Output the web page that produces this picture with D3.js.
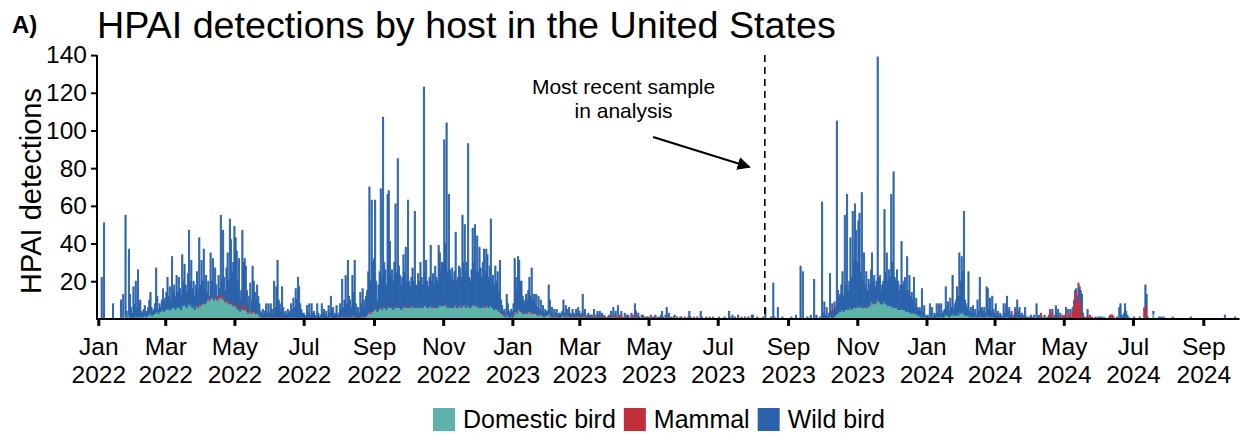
<!DOCTYPE html>
<html>
<head>
<meta charset="utf-8">
<script src="https://cdn.jsdelivr.net/npm/d3@7"></script>
<style>
  html, body { margin: 0; padding: 0; background: #ffffff; }
  svg { display: block; font-family: "Liberation Sans", Arial, Helvetica, sans-serif; }
</style>
</head>
<body>
<svg id="chart" width="1244" height="434"></svg>
<script>
// Daily HPAI detections, one row per calendar month starting January 2022.
const firstMonth = [2022, 0];

const wildBird = [
  /* 2022-01 */ [0,0,0,22,0,51,0,0,0,0,0,0,0,8,0,0,0,0,0,0,9,0,12,0,53,3,0,35,12,5,2],
  /* 2022-02 */ [16,7,18,5,24,7,8,3,2,3,5,2,2,4,7,11,4,2,2,5,23,8,2,4,2,5,11,5],
  /* 2022-03 */ [6,9,16,7,11,5,26,9,12,7,16,8,15,10,7,26,13,21,11,8,16,38,13,22,10,13,7,11,17,8,34],
  /* 2022-04 */ [10,23,12,27,8,14,2,9,1,23,9,18,5,14,7,0,11,4,42,7,34,12,4,17,25,12,42,33,15,23],
  /* 2022-05 */ [40,35,28,15,24,6,9,39,21,26,17,9,5,7,8,6,22,16,10,7,14,9,6,3,2,3,1,3,6,2,6],
  /* 2022-06 */ [2,6,4,2,18,5,16,30,7,7,3,16,5,2,3,2,4,2,3,7,4,10,5,15,8,21,16,7,4,2],
  /* 2022-07 */ [2,1,1,6,2,6,2,7,2,3,1,1,7,2,1,1,7,2,3,2,3,1,6,2,10,3,5,1,2,6,1],
  /* 2022-08 */ [2,7,3,19,5,8,21,7,28,11,9,5,21,12,29,7,4,5,3,12,7,14,8,5,10,13,21,66,16,59,25],
  /* 2022-09 */ [27,56,15,6,12,19,63,17,99,24,20,13,57,62,34,15,20,15,21,55,18,77,22,17,13,16,26,19,31,13],
  /* 2022-10 */ [55,14,11,14,20,14,50,10,11,17,14,22,16,12,115,18,24,13,11,15,32,14,17,11,21,16,14,32,24,18,23],
  /* 2022-11 */ [23,87,32,96,19,59,20,15,20,14,18,38,14,14,21,20,16,47,22,42,19,23,85,16,13,19,40,23,42,18],
  /* 2022-12 */ [37,19,30,21,16,23,30,18,30,27,16,21,45,14,16,13,22,15,17,11,25,6,3,2,2,2,10,5,3,2,3],
  /* 2023-01 */ [3,5,28,18,11,28,26,15,16,9,6,5,9,6,11,18,8,23,7,10,4,10,4,9,2,7,2,4,2,3,2],
  /* 2023-02 */ [2,15,7,1,4,1,2,2,3,1,1,2,1,2,7,2,5,2,1,4,1,1,3,1,1,3,1,4],
  /* 2023-03 */ [2,1,1,11,1,2,0,1,1,1,1,0,1,3,0,1,2,1,2,1,1,1,1,0,0,1,0,1,3,0,4],
  /* 2023-04 */ [1,2,0,5,0,1,2,0,0,2,0,1,0,1,0,1,1,0,6,2,1,2,0,0,1,0,1,0,0,1],
  /* 2023-05 */ [0,0,0,1,0,0,1,0,1,0,0,2,3,0,0,1,5,0,2,0,1,0,0,1,0,1,0,0,1,0,0],
  /* 2023-06 */ [0,0,0,0,1,3,0,0,0,0,0,0,1,0,0,4,1,0,0,0,0,0,0,1,0,0,1,0,0,0],
  /* 2023-07 */ [0,1,0,0,0,0,1,0,0,0,4,1,0,1,0,1,0,0,2,0,0,0,0,0,1,0,0,1,0,0,1],
  /* 2023-08 */ [1,0,0,0,1,0,0,0,0,0,0,6,0,0,0,0,1,0,18,1,0,0,6,0,0,0,1,0,0,0,0],
  /* 2023-09 */ [0,0,0,1,0,0,0,2,0,0,0,28,0,25,0,0,0,1,0,0,2,0,0,21,0,2,0,0,1,0],
  /* 2023-10 */ [61,3,8,2,5,1,2,22,3,1,4,7,4,101,12,8,9,13,19,8,50,13,60,10,13,37,17,51,23,55,39],
  /* 2023-11 */ [24,45,48,19,59,14,28,12,18,8,13,11,17,25,12,14,8,10,128,13,13,7,10,10,49,17,27,13,18,15],
  /* 2023-12 */ [59,24,71,16,13,20,15,10,13,35,13,14,17,11,28,11,19,9,10,7,17,5,8,4,3,4,3,13,2,5,1],
  /* 2024-01 */ [1,1,1,6,1,4,1,2,1,6,2,6,1,6,2,3,3,14,4,7,3,9,4,20,3,6,8,14,10,31,17],
  /* 2024-02 */ [29,22,53,8,6,4,22,3,4,2,5,2,3,1,8,3,19,4,4,3,5,2,14,14,4,9,3,10,4],
  /* 2024-03 */ [2,7,2,3,1,2,1,1,7,2,7,10,3,4,2,3,1,1,1,3,9,3,5,1,2,1,0,5,1,1,0],
  /* 2024-04 */ [1,1,0,1,1,0,7,1,1,0,0,1,0,1,0,0,0,1,0,0,2,1,1,6,1,3,1,1,1,0],
  /* 2024-05 */ [0,1,3,0,1,1,2,0,1,2,1,2,2,0,5,6,11,1,0,0,0,4,0,0,0,0,0,0,1,0,1],
  /* 2024-06 */ [0,1,0,1,0,0,0,0,0,1,0,0,0,0,0,0,1,0,5,7,2,1,3,7,4,2,1,0,0,0],
  /* 2024-07 */ [0,1,0,0,0,0,1,0,0,0,1,10,7,1,0,0,0,0,1,0,0,0,0,1,0,1,0,1,0,0,0],
  /* 2024-08 */ [0,0,0,0,1,0,0,0,0,0,0,0,0,0,0,0,0,0,0,0,1,0,0,0,0,0,0,0,0,0,0],
  /* 2024-09 */ [0,0,0,0,0,0,0,0,0,0,0,0,0,0,0,0,0,0,0,2,0,0,0,0,0,0,0,0,1,0]
];

const domesticBird = [
  /* 2022-01 */ [0,0,0,0,0,0,0,0,0,0,0,0,0,0,0,0,0,0,0,0,1,0,1,0,2,1,0,2,1,1,1],
  /* 2022-02 */ [1,1,2,1,2,1,2,1,1,2,2,1,2,2,3,3,2,2,3,3,4,4,3,4,4,5,5,4],
  /* 2022-03 */ [5,5,6,5,6,5,7,6,6,5,7,6,7,6,5,8,7,8,7,6,8,9,7,8,6,7,5,7,8,6,9],
  /* 2022-04 */ [7,8,8,9,8,9,10,11,10,12,11,12,10,12,11,10,12,11,13,11,12,10,9,10,9,8,9,8,8,7],
  /* 2022-05 */ [7,7,6,5,6,4,5,6,5,5,5,4,3,4,11,3,4,4,3,3,3,3,2,1,1,1,1,1,2,1,1],
  /* 2022-06 */ [1,1,1,0,1,1,1,1,1,1,1,1,1,0,1,0,1,1,1,1,1,1,1,1,1,1,1,1,1,1],
  /* 2022-07 */ [1,0,0,1,1,1,0,1,1,1,0,0,1,1,0,1,1,1,1,0,1,0,1,1,2,1,1,0,1,1,1],
  /* 2022-08 */ [1,1,1,2,1,1,2,1,2,1,1,1,2,1,2,1,0,1,0,1,1,2,1,1,2,2,3,4,3,4,4],
  /* 2022-09 */ [5,6,5,4,5,6,6,5,7,6,6,5,7,6,7,6,6,5,7,6,6,7,6,6,5,6,7,6,7,6],
  /* 2022-10 */ [7,6,6,7,7,6,7,6,6,7,6,7,6,6,8,7,7,6,6,7,7,6,7,6,7,6,6,7,8,7,7],
  /* 2022-11 */ [7,8,7,8,6,7,6,7,6,6,7,8,6,6,7,7,6,8,7,8,6,7,8,6,6,7,8,7,8,7],
  /* 2022-12 */ [7,6,7,6,6,7,7,6,7,7,6,7,8,6,6,5,6,5,6,4,6,3,3,2,2,1,3,2,1,1,2],
  /* 2023-01 */ [1,2,4,4,3,5,5,4,4,3,3,3,4,3,4,4,3,4,3,3,3,3,2,3,2,3,2,2,1,2,2],
  /* 2023-02 */ [2,3,3,1,2,1,2,1,2,1,1,1,1,2,2,1,2,2,1,2,1,1,2,1,1,2,1,2],
  /* 2023-03 */ [1,1,1,2,1,2,0,1,1,0,1,1,0,2,1,0,1,1,1,0,1,0,1,0,0,0,1,0,1,1,2],
  /* 2023-04 */ [1,1,0,2,1,0,1,0,0,1,0,1,1,0,0,1,0,1,2,1,0,1,0,0,1,1,0,0,0,0],
  /* 2023-05 */ [0,0,1,0,0,0,1,0,0,0,0,0,1,0,0,1,1,0,1,0,0,0,0,1,0,0,0,0,0,0,0],
  /* 2023-06 */ [0,0,0,0,0,1,0,0,0,0,0,0,0,0,0,0,0,0,0,0,0,0,0,0,0,0,0,0,0,0],
  /* 2023-07 */ [0,0,0,0,0,0,0,0,0,0,0,0,0,1,0,0,0,0,0,0,0,0,0,0,0,0,0,0,0,0,0],
  /* 2023-08 */ [0,0,0,0,0,0,0,0,0,0,0,0,0,0,0,0,0,0,1,0,0,0,0,0,0,0,0,0,0,0,0],
  /* 2023-09 */ [0,0,0,0,0,0,0,0,0,0,0,0,0,0,0,0,0,0,0,0,0,0,0,0,0,0,0,0,0,0],
  /* 2023-10 */ [1,0,1,0,1,0,1,2,1,1,1,2,2,3,3,4,4,5,5,4,5,5,6,5,6,6,5,6,7,6,7],
  /* 2023-11 */ [6,7,7,6,8,6,7,6,7,6,8,7,9,10,8,9,8,10,11,9,10,8,8,9,9,8,8,7,8,7],
  /* 2023-12 */ [7,6,7,6,6,6,5,5,5,6,5,5,5,4,5,4,4,3,4,3,4,3,3,2,2,2,1,3,1,2,1],
  /* 2024-01 */ [0,1,0,2,1,2,0,1,1,2,1,2,1,2,1,1,2,3,2,2,1,2,2,3,2,2,2,3,2,4,3],
  /* 2024-02 */ [4,3,4,2,2,2,3,1,2,1,2,1,2,1,2,1,3,1,2,1,1,1,2,2,1,2,1,2,1],
  /* 2024-03 */ [1,1,0,1,0,1,0,0,1,1,1,2,1,1,0,1,0,0,1,0,1,1,1,0,1,0,0,1,0,0,0],
  /* 2024-04 */ [0,0,0,0,1,0,1,0,0,0,0,0,0,1,0,0,0,0,1,0,1,0,0,1,0,1,0,0,0,0],
  /* 2024-05 */ [0,0,1,0,1,0,0,0,0,0,0,0,0,0,0,0,0,0,0,0,0,1,0,0,0,0,0,0,0,0,0],
  /* 2024-06 */ [0,0,0,0,0,1,0,0,0,0,0,0,0,0,0,0,0,0,1,1,0,0,0,1,0,0,0,0,0,0],
  /* 2024-07 */ [0,0,0,0,0,0,0,0,0,0,1,0,0,0,0,0,0,0,3,0,0,0,0,0,0,0,0,0,0,0,0],
  /* 2024-08 */ [0,0,0,0,0,0,0,0,0,0,0,0,0,0,0,0,0,0,0,0,0,0,0,0,0,0,0,0,0,0,0],
  /* 2024-09 */ [0,0,0,0,0,0,0,0,0,0,0,0,0,0,0,0,0,0,0,0,0,0,0,0,0,0,0,0,0,0]
];

const mammal = [
  /* 2022-01 */ [0,0,0,0,0,0,0,0,0,0,0,0,0,0,0,0,0,0,0,0,0,0,0,0,0,0,0,0,0,0,0],
  /* 2022-02 */ [0,0,0,0,0,0,0,0,0,0,0,0,0,0,0,0,0,0,0,0,0,0,0,0,0,0,0,0],
  /* 2022-03 */ [0,0,0,0,0,0,0,0,0,0,0,0,0,0,0,0,0,0,0,0,0,0,0,1,0,0,0,0,0,1,0],
  /* 2022-04 */ [1,0,0,1,0,0,2,0,1,0,0,2,0,1,0,2,0,1,0,2,1,0,2,0,1,0,2,1,2,0],
  /* 2022-05 */ [2,1,2,0,2,0,1,2,4,1,6,2,0,1,0,1,2,0,1,0,1,0,0,0,0,1,0,0,0,0,1],
  /* 2022-06 */ [0,1,0,0,1,0,0,0,2,0,0,0,0,1,0,0,0,0,0,0,0,0,0,0,1,0,0,0,0,0],
  /* 2022-07 */ [0,1,0,0,0,1,0,0,0,0,1,0,0,0,0,0,0,0,1,0,0,0,0,0,0,0,0,1,0,0,0],
  /* 2022-08 */ [0,0,1,0,0,1,0,0,1,0,0,0,0,1,0,0,0,0,0,1,0,0,1,0,0,0,1,0,1,0,1],
  /* 2022-09 */ [0,1,0,0,1,0,0,0,1,0,0,0,2,0,0,1,0,0,2,0,0,1,0,0,0,0,1,0,0,1],
  /* 2022-10 */ [1,0,0,1,0,0,0,2,0,0,0,1,0,0,0,0,0,1,0,0,0,0,0,1,0,0,0,0,3,0,0],
  /* 2022-11 */ [0,0,1,0,0,0,0,0,1,0,0,0,0,2,0,0,0,0,1,0,0,0,0,0,1,0,0,0,0,0],
  /* 2022-12 */ [0,0,1,0,0,0,0,1,0,0,0,0,0,0,1,0,0,0,2,0,0,1,1,0,1,0,0,1,0,0,0],
  /* 2023-01 */ [0,1,0,0,1,0,0,1,0,0,1,0,0,1,0,0,1,0,0,0,1,0,0,0,1,0,0,1,0,0,0],
  /* 2023-02 */ [0,0,0,1,0,0,1,0,0,0,1,0,0,0,1,0,0,1,0,0,1,0,0,1,0,0,1,0],
  /* 2023-03 */ [1,0,1,0,0,1,1,0,1,0,0,1,0,0,1,0,1,0,1,0,1,0,0,1,0,0,1,0,0,1,0],
  /* 2023-04 */ [0,1,1,0,1,0,1,1,0,0,1,0,1,0,0,1,0,1,0,1,0,0,1,0,0,1,0,0,1,0],
  /* 2023-05 */ [1,0,1,0,0,1,0,0,0,0,1,0,0,1,0,0,0,1,0,0,0,0,1,0,0,0,0,0,0,1,0],
  /* 2023-06 */ [0,1,0,0,0,0,1,0,0,1,0,0,0,0,0,0,0,0,0,0,1,0,0,0,0,0,0,0,0,0],
  /* 2023-07 */ [0,0,0,0,0,0,0,0,0,0,0,0,0,0,0,0,0,0,0,0,0,1,0,0,0,0,0,0,0,0,1],
  /* 2023-08 */ [1,0,0,0,0,0,0,0,0,1,0,0,0,0,0,0,0,0,0,0,0,0,0,0,0,0,0,0,0,0,0],
  /* 2023-09 */ [0,0,0,0,0,0,0,0,0,0,0,0,0,0,0,0,0,0,0,0,0,0,0,0,0,0,0,0,0,0],
  /* 2023-10 */ [0,0,0,0,0,0,0,0,0,6,0,0,0,1,0,0,0,0,1,0,0,0,0,0,1,0,0,0,0,0,1],
  /* 2023-11 */ [0,0,1,0,0,0,0,0,0,1,0,0,0,0,0,0,1,0,0,0,0,0,0,1,0,0,0,0,0,0],
  /* 2023-12 */ [0,0,0,0,1,0,0,0,0,0,0,1,0,0,0,0,0,0,0,0,1,0,0,0,0,0,0,0,0,0,0],
  /* 2024-01 */ [0,0,0,0,0,0,0,0,0,0,0,0,0,0,0,0,0,0,0,0,0,0,0,0,0,0,0,0,0,0,0],
  /* 2024-02 */ [0,0,0,0,0,0,0,0,0,0,0,0,0,0,0,0,0,0,0,0,0,0,1,0,0,0,0,0,0],
  /* 2024-03 */ [0,0,0,0,0,0,1,0,0,0,0,0,0,1,0,0,0,1,4,0,0,0,0,1,0,0,2,0,0,0,0],
  /* 2024-04 */ [0,1,0,0,0,0,0,0,1,0,3,0,0,0,0,1,0,1,4,3,2,0,1,0,2,1,0,2,0,2],
  /* 2024-05 */ [1,1,2,1,3,1,3,1,5,8,14,14,10,19,12,9,2,2,1,0,1,0,1,2,0,1,0,0,0,0,0],
  /* 2024-06 */ [0,0,0,0,0,0,0,0,0,0,2,2,2,1,0,0,0,0,0,0,0,0,0,0,0,0,0,0,0,0],
  /* 2024-07 */ [0,0,0,0,0,0,0,0,0,0,4,8,6,0,0,0,0,0,0,0,0,0,0,0,0,0,0,0,0,0,0],
  /* 2024-08 */ [0,0,0,0,0,0,0,0,0,0,0,0,0,0,0,0,0,0,0,0,0,0,0,0,0,0,0,0,0,0,0],
  /* 2024-09 */ [0,0,0,0,0,0,0,0,0,0,0,0,0,0,0,0,0,0,0,0,0,0,0,0,0,0,0,0,0,0]
];

const hostNames = ["Domestic bird", "Mammal", "Wild bird"];
const hostKeys = ["domestic", "mammal", "wild"];
const hostColors = ["#5db3a9", "#c22f3b", "#2a63ac"];
const yTickValues = [20, 40, 60, 80, 100, 120, 140];
const cutoffDate = Date.UTC(2023, 7, 11, 12);
const annotationLines = ["Most recent sample", "in analysis"];

// ---- flatten month rows into daily records ----
const days = [];
wildBird.forEach((row, m) => {
  row.forEach((w, i) => {
    days.push({
      date: new Date(Date.UTC(firstMonth[0], firstMonth[1] + m, i + 1)),
      wild: w,
      domestic: (domesticBird[m] && domesticBird[m][i]) || 0,
      mammal: (mammal[m] && mammal[m][i]) || 0
    });
  });
});

const svg = d3.select("#chart");
const fontFamily = "Liberation Sans, Arial, sans-serif";

const x = d3.scaleUtc()
  .domain([Date.UTC(2022, 0, 1), Date.UTC(2024, 9, 3)])
  .range([98.3, 1239.6]);
const y = d3.scaleLinear().domain([0, 140]).range([318.9, 55.1]);
const dayWidth = x(Date.UTC(2022, 0, 2)) - x(Date.UTC(2022, 0, 1));

// ---- stacked daily bars (outlined in their own colour so single days read clearly) ----
const stack = d3.stack().keys(hostKeys)(days);
const layers = svg.append("g").attr("class", "bars");
stack.forEach((layer, li) => {
  layers.append("g")
    .attr("fill", hostColors[li])
    .attr("stroke", hostColors[li])
    .attr("stroke-width", 0.9)
    .selectAll("rect")
    .data(layer.filter(d => d[1] > d[0]))
    .join("rect")
    .attr("x", d => x(d.data.date) - dayWidth / 2)
    .attr("width", dayWidth)
    .attr("y", d => y(d[1]))
    .attr("height", d => y(d[0]) - y(d[1]));
});

// ---- axes ----
const yAxis = svg.append("g")
  .attr("transform", "translate(97,0)")
  .call(d3.axisLeft(y).tickValues(yTickValues).tickSize(6).tickSizeOuter(0).tickPadding(4));
yAxis.select(".domain").attr("stroke", "#000").attr("stroke-width", 2)
  .attr("d", `M0,${y(0) + 1}V${y(140)}`);
yAxis.selectAll(".tick line").attr("stroke", "#000").attr("stroke-width", 2);
yAxis.selectAll(".tick text").attr("font-size", 24.5).attr("fill", "#000")
  .attr("font-family", fontFamily);

const monthTicks = d3.utcMonths(Date.UTC(2022, 0, 1), Date.UTC(2024, 9, 1), 2);
const xAxis = svg.append("g")
  .attr("transform", `translate(0,${y(0)})`)
  .call(d3.axisBottom(x).tickValues(monthTicks).tickSize(7).tickSizeOuter(0).tickFormat(""));
xAxis.select(".domain").attr("stroke", "#000").attr("stroke-width", 2)
  .attr("d", `M96,0H${x.range()[1]}`);
xAxis.selectAll(".tick line").attr("stroke", "#000").attr("stroke-width", 3);
const fmtMonth = d3.utcFormat("%b"), fmtYear = d3.utcFormat("%Y");
xAxis.selectAll(".tick").each(function(d) {
  const g = d3.select(this);
  g.append("text")
    .attr("fill", "#000").attr("font-size", 24.5).attr("text-anchor", "middle")
    .attr("font-family", fontFamily)
    .attr("x", 0).attr("y", 36.5).text(fmtMonth(d));
  g.append("text")
    .attr("fill", "#000").attr("font-size", 24.5).attr("text-anchor", "middle")
    .attr("font-family", fontFamily)
    .attr("x", 0).attr("y", 64).text(fmtYear(d));
});

// ---- axis title ----
svg.append("text")
  .attr("transform", `translate(41,${(y(0) + y(140)) / 2 + 4}) rotate(-90)`)
  .attr("text-anchor", "middle")
  .attr("font-size", 29)
  .attr("fill", "#000")
  .text("HPAI detections");

// ---- titles ----
svg.append("text").attr("x", 12).attr("y", 33)
  .attr("font-size", 24).attr("font-weight", "bold").attr("fill", "#000").text("A)");
svg.append("text").attr("x", 97).attr("y", 38)
  .attr("font-size", 37.7).attr("fill", "#000")
  .text("HPAI detections by host in the United States");

// ---- cutoff line and annotation ----
svg.append("line")
  .attr("x1", x(cutoffDate)).attr("x2", x(cutoffDate))
  .attr("y1", y(140)).attr("y2", y(0))
  .attr("stroke", "#000").attr("stroke-width", 1.6).attr("stroke-dasharray", "7,5");

const noteX = x(Date.UTC(2023, 3, 9));
svg.append("text")
  .attr("text-anchor", "middle").attr("font-size", 21).attr("fill", "#000")
  .selectAll("tspan").data(annotationLines).join("tspan")
  .attr("x", noteX)
  .attr("y", (d, i) => y(119.4) + i * 24)
  .text(d => d);

svg.append("defs").append("marker")
  .attr("id", "arrowhead").attr("viewBox", "0 0 10 10")
  .attr("refX", 9).attr("refY", 5)
  .attr("markerWidth", 6).attr("markerHeight", 6)
  .attr("markerUnits", "strokeWidth")
  .attr("orient", "auto")
  .append("path").attr("d", "M0,0L10,5L0,10z").attr("fill", "#000");
svg.append("line")
  .attr("x1", x(Date.UTC(2023, 4, 5))).attr("y1", y(96.5))
  .attr("x2", x(Date.UTC(2023, 6, 29))).attr("y2", y(80.6))
  .attr("stroke", "#000").attr("stroke-width", 2.2)
  .attr("marker-end", "url(#arrowhead)");

// ---- legend ----
const legend = svg.append("g").attr("transform", "translate(433,408)");
let lx = 0;
hostNames.forEach((name, i) => {
  legend.append("rect").attr("x", lx).attr("y", 0).attr("width", 22).attr("height", 23)
    .attr("fill", hostColors[i]);
  const t = legend.append("text").attr("x", lx + 30).attr("y", 20)
    .attr("font-size", 25).attr("fill", "#000").text(name);
  lx += 30 + t.node().getComputedTextLength() + 8;
});
</script>
</body>
</html>
